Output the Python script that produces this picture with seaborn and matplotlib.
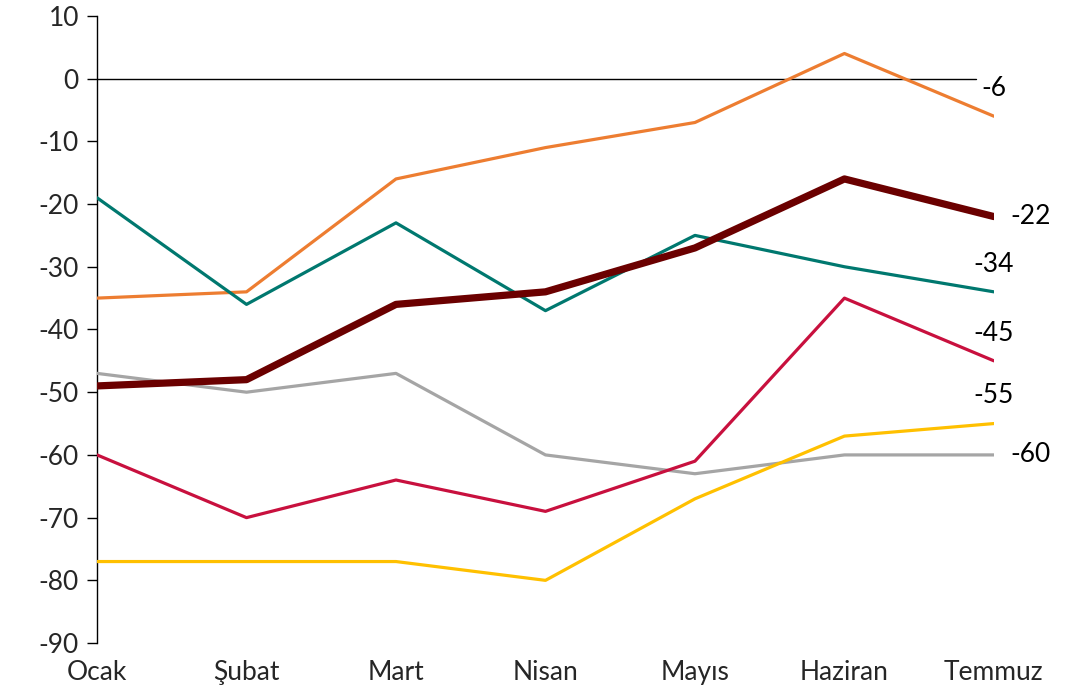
import pandas as pd
import matplotlib.pyplot as plt
import seaborn as sns

months = ["Ocak", "Şubat", "Mart", "Nisan", "Mayıs", "Haziran", "Temmuz"]
orange_vals = [-35, -34, -16, -11, -7, 4, -6]
maroon_vals = [-49, -48, -36, -34, -27, -16, -22]
teal_vals = [-19, -36, -23, -37, -25, -30, -34]
gray_vals = [-47, -50, -47, -60, -63, -60, -60]
crimson_vals = [-60, -70, -64, -69, -61, -35, -45]
yellow_vals = [-77, -77, -77, -80, -67, -57, -55]

series = [
    ("orange", orange_vals, "#ED7D31", 2.3, "above"),
    ("teal", teal_vals, "#00786F", 2.3, "above"),
    ("gray", gray_vals, "#A5A5A5", 2.3, "right"),
    ("crimson", crimson_vals, "#C8103E", 2.3, "above"),
    ("yellow", yellow_vals, "#FFC000", 2.3, "above"),
    ("maroon", maroon_vals, "#6B0000", 5.2, "right"),
]

sns.set_theme(style="white")
plt.rcParams["font.family"] = ["Lato", "DejaVu Sans"]
plt.rcParams["axes.unicode_minus"] = False

fig = plt.figure(figsize=(10.78, 6.9), dpi=100)
ax = fig.add_axes([0.09, 0.068, 0.832, 0.909])

x = list(range(len(months)))
ax.plot([0, 5.88], [0, 0], color="black", lw=1.0, zorder=1)

for name, vals, color, lw, pos in series:
    df = pd.DataFrame({"x": x, "y": vals})
    sns.lineplot(data=df, x="x", y="y", color=color, linewidth=lw, ax=ax, zorder=3)
    last = vals[-1]
    if pos == "above":
        ax.annotate(f"{last}", (x[-1], last), xytext=(0, 20), textcoords="offset points",
                    ha="center", va="center", fontsize=19, color="black", annotation_clip=False)
    else:
        ax.annotate(f"{last}", (x[-1], last), xytext=(12, 0), textcoords="offset points",
                    ha="left", va="center", fontsize=19, color="black", annotation_clip=False)

ax.set_xlim(0, 6)
ax.set_ylim(-90, 10)
ax.set_yticks(range(-90, 11, 10))
ax.set_xticks(x)
ax.set_xticklabels(months)
ax.set_xlabel("")
ax.set_ylabel("")
ax.tick_params(axis="y", direction="out", length=7, width=1, color="black", labelsize=19, pad=6, left=True)
ax.tick_params(axis="x", length=0, labelsize=19, pad=12)
for s in ["top", "right", "bottom"]:
    ax.spines[s].set_visible(False)
ax.spines["left"].set_color("black")
ax.spines["left"].set_linewidth(1.0)

fig.savefig("out.png", dpi=100)
